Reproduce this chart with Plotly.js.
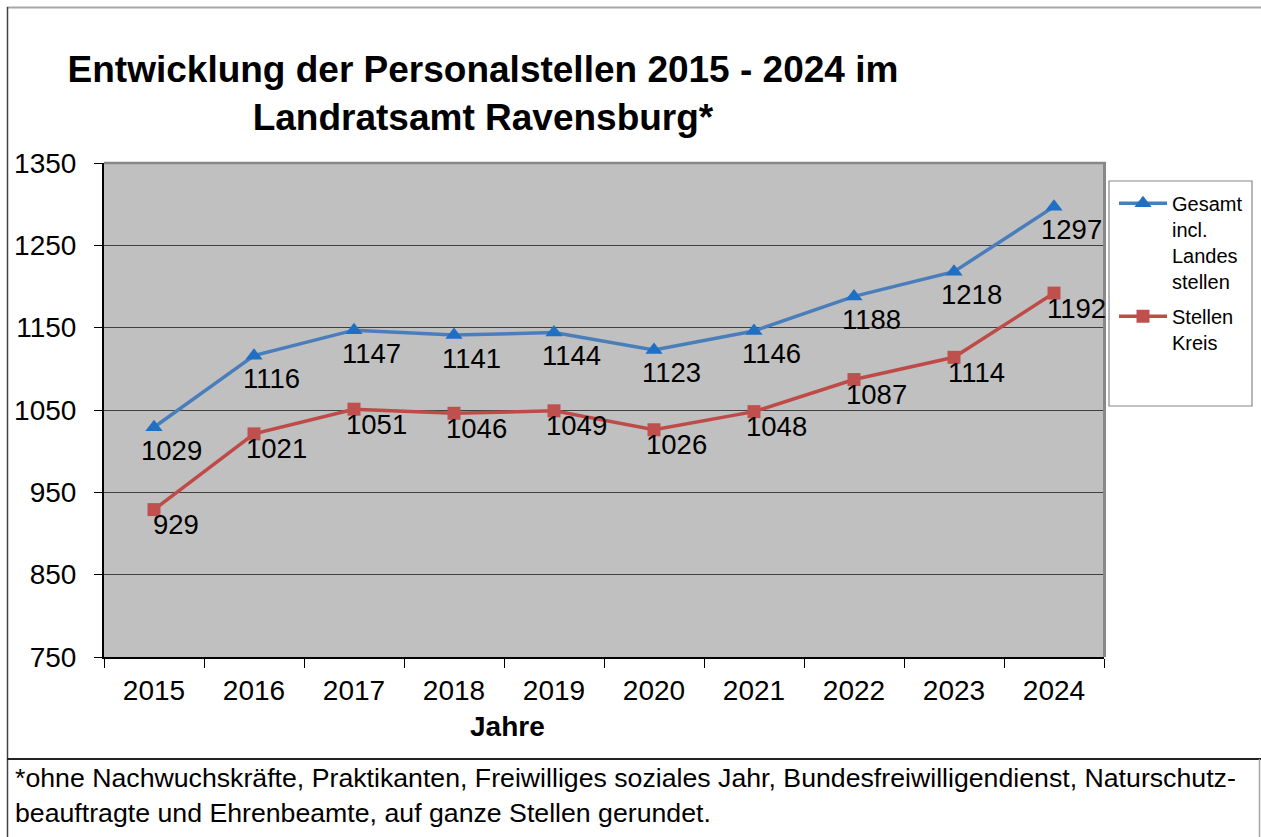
<!DOCTYPE html>
<html>
<head>
<meta charset="utf-8">
<script src="https://cdn.plot.ly/plotly-3.0.1.min.js"></script>
<style>html,body{margin:0;padding:0;background:#fff;}#chart{width:1261px;height:837px;}</style>
</head>
<body>
<div id="chart"></div>
<script>
const years = ["2015","2016","2017","2018","2019","2020","2021","2022","2023","2024"];
const gesamt = [1029,1116,1147,1141,1144,1123,1146,1188,1218,1297];
const kreis = [929,1021,1051,1046,1049,1026,1048,1087,1114,1192];
const seriesNames = ["Gesamt<br>incl.<br>Landes<br>stellen", "Stellen<br>Kreis"];
const yTicks = [750,850,950,1050,1150,1250,1350];
const titleText = "Entwicklung der Personalstellen 2015 - 2024 im<br>Landratsamt Ravensburg*";
const footnote = "*ohne Nachwuchskräfte, Praktikanten, Freiwilliges soziales Jahr, Bundesfreiwilligendienst, Naturschutz-<br>beauftragte und Ehrenbeamte, auf ganze Stellen gerundet.";
const xTitle = "Jahre";

const FONT = "Arial, 'Liberation Sans', sans-serif";

const traces = [
  {
    x: years, y: gesamt, name: seriesNames[0], type: 'scatter', mode: 'lines+markers',
    line: {color: '#4A7EBB', width: 3.5},
    marker: {symbol: 'triangle-up', size: 15, color: '#1F6FC4', line: {width: 0}},
    legendgroup: 'a'
  },
  {
    x: years, y: kreis, name: seriesNames[1], type: 'scatter', mode: 'lines+markers',
    line: {color: '#BE4B48', width: 3.5},
    marker: {symbol: 'square', size: 13, color: '#C0504D', line: {width: 0}},
    legendgroup: 'b'
  }
];

const annotations = [];
years.forEach((yr, i) => {
  annotations.push({x: i, y: gesamt[i], xref: 'x', yref: 'y', text: String(gesamt[i]), showarrow: false,
    xshift: 17, yshift: -23, font: {family: FONT, size: 27.5, color: '#000'}});
  annotations.push({x: i, y: kreis[i], xref: 'x', yref: 'y', text: String(kreis[i]), showarrow: false,
    xshift: 22, yshift: -15, font: {family: FONT, size: 27.5, color: '#000'}});
});
annotations.push({xref: 'paper', yref: 'paper', x: 0.403, y: -0.1417, xanchor: 'center', yanchor: 'middle',
  text: '<b>' + xTitle + '</b>', showarrow: false, font: {family: FONT, size: 28, color: '#000'}});
annotations.push({xref: 'paper', yref: 'paper', x: -0.091, y: -0.2105, xanchor: 'left', yanchor: 'top', align: 'left',
  text: footnote, showarrow: false, font: {family: FONT, size: 26.7, color: '#000'}});

const shapes = [
  // outer chart border
  {type: 'line', xref: 'paper', yref: 'paper', x0: -0.097, x1: 1.157, y0: 1.3148, y1: 1.3148, line: {color: '#A6A6A6', width: 2}},
  {type: 'line', xref: 'paper', yref: 'paper', x0: -0.0965, x1: -0.0965, y0: 1.3158, y1: -0.37, line: {color: '#404040', width: 1.5}},
  // footnote box
  {type: 'line', xref: 'paper', yref: 'paper', x0: -0.097, x1: 1.157, y0: -0.2065, y1: -0.2065, line: {color: '#222', width: 2}},
  {type: 'line', xref: 'paper', yref: 'paper', x0: 1.1555, x1: 1.1555, y0: -0.2065, y1: -0.37, line: {color: '#A6A6A6', width: 1.5}},
  // plot area top & right border
  {type: 'line', xref: 'paper', yref: 'paper', x0: 0, x1: 1.002, y0: 1, y1: 1, line: {color: '#888888', width: 2.5}},
  {type: 'line', xref: 'paper', yref: 'paper', x0: 1.0005, x1: 1.0005, y0: 1, y1: 0, line: {color: '#888888', width: 3}},
  // legend box
  {type: 'rect', xref: 'paper', yref: 'paper', x0: 1.005, x1: 1.148, y0: 0.9636, y1: 0.5081, line: {color: '#888888', width: 1.2}, fillcolor: 'rgba(0,0,0,0)'}
];

const layout = {
  width: 1261, height: 837,
  margin: {l: 104, r: 157, t: 163, b: 180, pad: 0},
  paper_bgcolor: '#FFFFFF',
  plot_bgcolor: '#C0C0C0',
  font: {family: FONT, color: '#000'},
  title: {
    text: '<b>' + titleText + '</b>',
    xref: 'container', yref: 'container', x: 0.383, xanchor: 'center',
    y: 0.902, yanchor: 'top',
    font: {family: FONT, size: 37, color: '#000'}
  },
  xaxis: {
    type: 'category', range: [-0.5, 9.5], tickson: 'boundaries',
    ticks: 'outside', ticklen: 9, tickcolor: '#000', tickwidth: 1,
    showline: true, linecolor: '#000', linewidth: 2,
    showgrid: false, zeroline: false,
    tickfont: {family: FONT, size: 28, color: '#000'},
    ticklabelstandoff: 7,
    fixedrange: true
  },
  yaxis: {
    range: [750, 1350], tickvals: yTicks, ticktext: yTicks.map(String),
    ticks: 'outside', ticklen: 8, tickcolor: '#000', tickwidth: 1,
    showline: true, linecolor: '#000', linewidth: 2,
    showgrid: true, gridcolor: '#404040', gridwidth: 1, zeroline: false,
    tickfont: {family: FONT, size: 28, color: '#000'},
    ticklabelstandoff: 12,
    fixedrange: true
  },
  showlegend: true,
  legend: {
    x: 1.01, y: 0.958, xanchor: 'left', yanchor: 'top',
    bgcolor: 'rgba(0,0,0,0)', borderwidth: 0,
    font: {family: FONT, size: 20, color: '#000'},
    valign: 'top', tracegroupgap: 6, itemwidth: 48
  },
  annotations: annotations,
  shapes: shapes
};

Plotly.newPlot('chart', traces, layout, {displayModeBar: false, staticPlot: true});
</script>
</body>
</html>
